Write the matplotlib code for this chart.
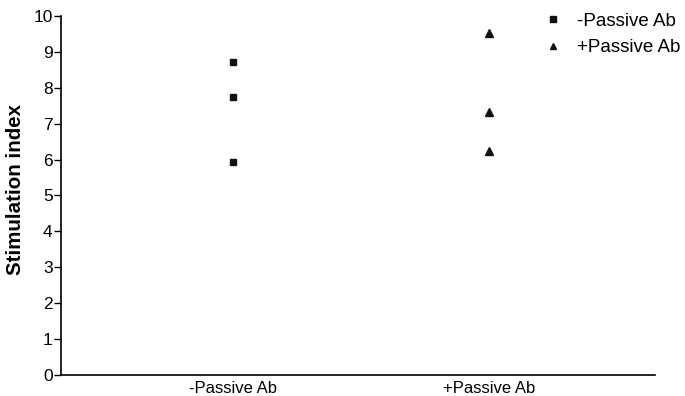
import numpy as np
import matplotlib.pyplot as plt

categories = ['-Passive Ab', '+Passive Ab']
minus_ab = [8.71, 7.73, 5.94]
plus_ab = [9.51, 7.31, 6.23]
y_ticks = list(range(0, 11))

plt.rcParams['font.family'] = ['Liberation Sans', 'DejaVu Sans']

fig = plt.figure(figsize=(6.85, 3.96), dpi=100)
ax = fig.add_axes([0.089, 0.053, 0.867, 0.907])

ax.plot([1] * len(minus_ab), minus_ab, 's', color='#111111', markersize=5,
        linestyle='none', label='-Passive Ab')
ax.plot([2] * len(plus_ab), plus_ab, '^', color='#111111', markersize=5.2,
        linestyle='none', label='+Passive Ab')

ax.set_xlim(0.328, 2.648)
ax.set_ylim(0, 10)
ax.set_yticks(y_ticks)
ax.tick_params(axis='y', labelsize=12.5, length=5, width=1, pad=1)
ax.set_xticks([1, 2])
ax.set_xticklabels(categories, fontsize=12)
ax.tick_params(axis='x', length=0, pad=4)

ax.spines['top'].set_visible(False)
ax.spines['right'].set_visible(False)
ax.spines['left'].set_linewidth(1.2)
ax.spines['bottom'].set_linewidth(1.2)

ax.set_ylabel('Stimulation index', fontsize=14.8, fontweight='bold')
ax.yaxis.set_label_coords(-0.06, 0.517)

leg = ax.legend(loc='upper left', bbox_to_anchor=(0.784, 1.03), frameon=False,
                fontsize=13.5, handletextpad=0.3, labelspacing=0.5,
                borderaxespad=0, markerscale=0.9)

fig.savefig('out.png', dpi=100)
